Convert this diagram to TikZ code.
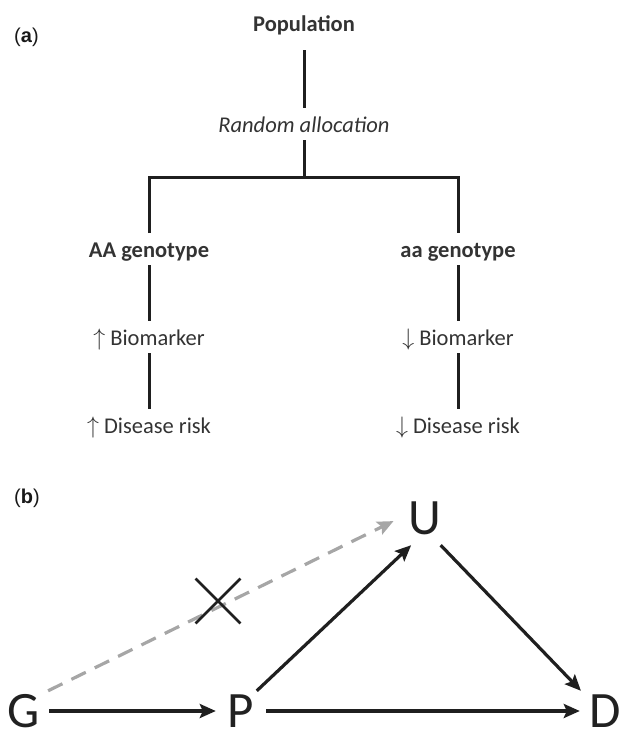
\documentclass[tikz,border=0pt]{standalone}
\usepackage{fontspec}
\setmainfont{Carlito}
\newfontfamily\panelfont{Liberation Sans}
\usetikzlibrary{arrows.meta,shapes.misc}

\newcommand{\up}{\scalebox{1.15}{$\uparrow$}}
\newcommand{\down}{\scalebox{1.15}{$\downarrow$}}

\tikzset{
  level/.style={inner sep=0pt, text height=20pt, text depth=4pt, outer ysep=4pt,
    text=black!80, font=\fontsize{22.5}{27}\selectfont},
  head/.style={level, font=\fontsize{22.5}{27}\selectfont\bfseries},
  note/.style={level, font=\fontsize{22.5}{27}\selectfont\itshape},
  varnode/.style={inner sep=0pt, minimum width=50pt, minimum height=40pt,
    text=black!87, font=\fontsize{51}{60}\selectfont},
  tree/.style={line width=3pt, black!88},
  arr/.style={line width=3.2pt, black!88, -{Stealth[length=16pt,width=14pt,inset=3pt]}},
  panel/.style={anchor=base west, inner sep=0pt, text=black!90,
    font=\panelfont\fontsize{20}{24}\selectfont}
}

\begin{document}
\begin{tikzpicture}[x=1pt,y=-1pt]
  \useasboundingbox (0,0) rectangle (619,732);

  % Panel (a): the trial analogy
  \node[panel] (labA) at (14,42) {(\textbf{a})};
  \node[head, anchor=base] (pop) at (304,31) {Population};
  \node[note, anchor=base] (rand) at (304,132) {Random allocation};
  \coordinate (split) at (304,177);

  \node[head, anchor=base] (AA) at (149,257) {AA genotype};
  \node[head, anchor=base] (aa) at (458,257) {aa genotype};
  \node[level, anchor=base] (upB) at (149,345) {\up\ Biomarker};
  \node[level, anchor=base] (dnB) at (458,345) {\down\ Biomarker};
  \node[level, anchor=base] (upD) at (149,433) {\up\ Disease risk};
  \node[level, anchor=base] (dnD) at (458,433) {\down\ Disease risk};

  \draw[tree, shorten <=11pt] (pop) -- (rand);
  \draw[tree] (rand) -- (split);
  \draw[tree] (AA) |- (split) -| (aa);
  \draw[tree] (AA) -- (upB);
  \draw[tree] (upB) -- (upD);
  \draw[tree] (aa) -- (dnB);
  \draw[tree] (dnB) -- (dnD);

  % Panel (b): the causal graph
  \node[panel] (labB) at (14,503) {(\textbf{b})};
  \node[varnode] (G) at (24,711) {G};
  \node[varnode] (P) at (241,711) {P};
  \node[varnode, minimum height=54pt] (U) at (425,518) {U};
  \node[varnode] (D) at (605,711) {D};

  \draw[arr] (G) -- (P);
  \draw[arr] (P) -- (D);
  \draw[arr] (P.52) -- (U.243);
  \draw[arr] (U.300) -- (D.140);
  \draw[arr, black!35, dash pattern=on 16pt off 10pt, shorten >=7pt] (G.40) -- (U.west);

  % the blocked path
  \node[draw, cross out, line width=2.8pt, black!88, inner sep=0pt, minimum size=42pt] (cut) at (218,601) {};
\end{tikzpicture}
\end{document}
